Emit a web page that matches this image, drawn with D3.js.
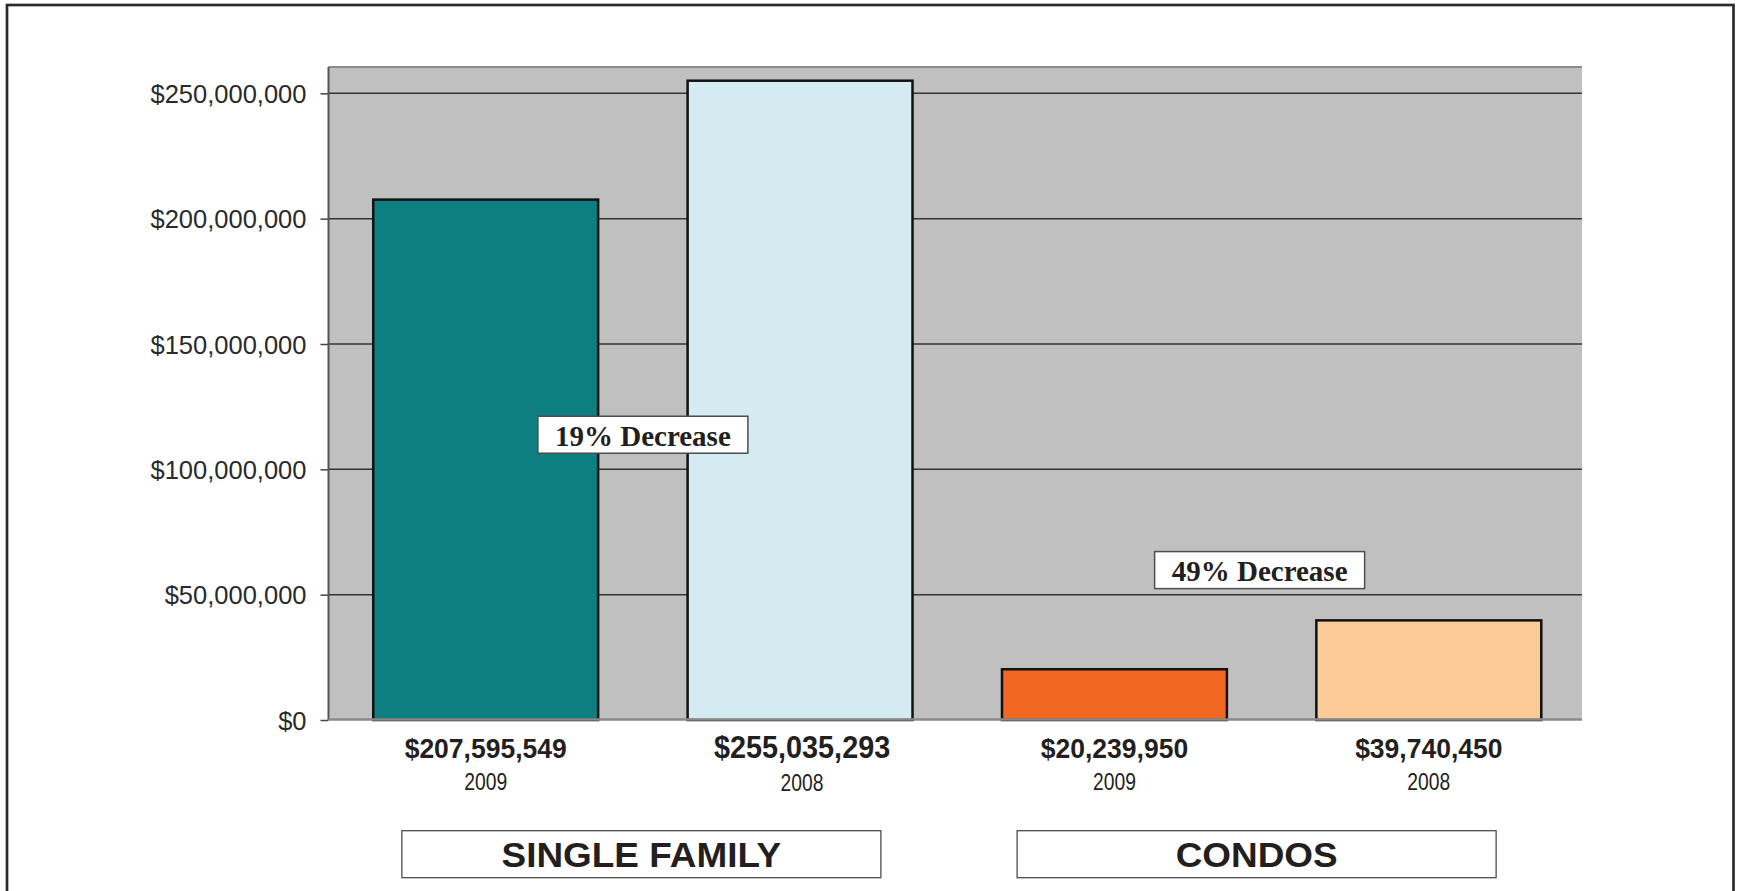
<!DOCTYPE html>
<html>
<head>
<meta charset="utf-8">
<script src="https://cdn.jsdelivr.net/npm/d3@7"></script>
<style>
  html, body { margin: 0; padding: 0; background: #ffffff; }
  svg { display: block; }
</style>
</head>
<body>
<svg id="chart" width="1741" height="891"></svg>
<script>
// ---------------- data ----------------
const categories = ["Single Family 2009", "Single Family 2008", "Condos 2009", "Condos 2008"];
const years = ["2009", "2008", "2009", "2008"];
const values = [207595549, 255035293, 20239950, 39740450];
const groups = ["SINGLE FAMILY", "CONDOS"];
const groupMembers = [[0, 1], [2, 3]];
const changeLabels = ["19% Decrease", "49% Decrease"];
const changeAnchors = [113.8e6, 59.8e6];
const yTicks = [0, 50000000, 100000000, 150000000, 200000000, 250000000];
const barColors = ["#0e7f80", "#d4ebf2", "#f26722", "#fdcb98"];

// ---------------- layout ----------------
const plot = { left: 328.5, right: 1582, top: 67, bottom: 720 };
const svg = d3.select("#chart");

const x = d3.scaleBand()
  .domain(categories)
  .range([plot.left, 1586])
  .paddingInner(0.2846)
  .paddingOuter(0.1423);

const y = d3.scaleLinear()
  .domain([0, 260500000])
  .range([plot.bottom, plot.top]);

const fmt = d3.format("$,");
const sans = "'Liberation Sans', Arial, Helvetica, sans-serif";
const serif = "'Liberation Serif', 'Times New Roman', serif";

// outer frame
svg.append("rect")
  .attr("x", 7).attr("y", 5)
  .attr("width", 1726.5).attr("height", 1000)
  .attr("fill", "none")
  .attr("stroke", "#2b2b2b")
  .attr("stroke-width", 2.7);

// plot background
svg.append("rect")
  .attr("x", plot.left).attr("y", plot.top)
  .attr("width", plot.right - plot.left)
  .attr("height", plot.bottom - plot.top)
  .attr("fill", "#c0c0c0");

// top border of plot area
svg.append("line")
  .attr("x1", plot.left).attr("x2", plot.right)
  .attr("y1", plot.top).attr("y2", plot.top)
  .attr("stroke", "#8c8c8c").attr("stroke-width", 2);

// gridlines
svg.append("g")
  .selectAll("line")
  .data(yTicks.filter(d => d > 0))
  .join("line")
  .attr("x1", plot.left).attr("x2", plot.right)
  .attr("y1", d => y(d)).attr("y2", d => y(d))
  .attr("stroke", "#333333").attr("stroke-width", 1.5);

// y axis
const yAxis = d3.axisLeft(y)
  .tickValues(yTicks)
  .tickFormat(fmt)
  .tickSize(8)
  .tickPadding(14);

const yg = svg.append("g")
  .attr("transform", `translate(${plot.left},0)`)
  .call(yAxis);
yg.select(".domain").remove();
yg.selectAll(".tick line").attr("stroke", "#444").attr("stroke-width", 1.5);
yg.selectAll(".tick text")
  .attr("font-family", sans)
  .attr("font-size", 25.5)
  .attr("font-weight", 300)
  .attr("fill", "#2a2a2a")
  .attr("dy", "0.36em");

// left axis line
svg.append("line")
  .attr("x1", plot.left).attr("x2", plot.left)
  .attr("y1", plot.top).attr("y2", plot.bottom)
  .attr("stroke", "#555").attr("stroke-width", 2);

// bars
svg.append("g")
  .selectAll("rect")
  .data(values)
  .join("rect")
  .attr("x", (d, i) => x(categories[i]))
  .attr("y", d => y(d))
  .attr("width", x.bandwidth())
  .attr("height", d => y(0) - y(d))
  .attr("fill", (d, i) => barColors[i])
  .attr("stroke", "#111")
  .attr("stroke-width", 2.5);

// baseline axis
svg.append("line")
  .attr("x1", plot.left).attr("x2", plot.right)
  .attr("y1", y(0) - 0.5).attr("y2", y(0) - 0.5)
  .attr("stroke", "#8a8a8a").attr("stroke-width", 2.4);

// value labels
svg.append("g")
  .selectAll("text")
  .data(values)
  .join("text")
  .attr("transform", (d, i) => {
    const cx = x(categories[i]) + x.bandwidth() / 2 + (i === 1 ? 2 : 0);
    return `translate(${cx},758) scale(0.93,1)`;
  })
  .attr("text-anchor", "middle")
  .attr("font-family", sans)
  .attr("font-weight", "bold")
  .attr("font-size", (d, i) => i === 1 ? 31 : 28.5)
  .attr("fill", "#231f20")
  .text(d => fmt(d));

// year labels (condensed)
svg.append("g")
  .selectAll("text")
  .data(years)
  .join("text")
  .attr("transform", (d, i) => {
    const cx = x(categories[i]) + x.bandwidth() / 2 + (i === 1 ? 2 : 0);
    return `translate(${cx},${i === 1 ? 791 : 789.5}) scale(0.84,1)`;
  })
  .attr("text-anchor", "middle")
  .attr("font-family", sans)
  .attr("font-size", 23)
  .attr("fill", "#231f20")
  .text(d => d);

// change annotations
const annOffsets = [0, -12];
changeLabels.forEach((label, k) => {
  const [a, b] = groupMembers[k];
  const cx = (x(categories[a]) + x(categories[b])) / 2 + x.bandwidth() / 2 + annOffsets[k];
  const cy = y(changeAnchors[k]);
  const g = svg.append("g").attr("transform", `translate(${cx},${cy})`);
  g.append("rect")
    .attr("x", -105).attr("y", -18.5)
    .attr("width", 210).attr("height", 37)
    .attr("fill", "#ffffff")
    .attr("stroke", "#4d4d4d").attr("stroke-width", 1.5);
  g.append("text")
    .attr("x", 0).attr("y", 10.8)
    .attr("text-anchor", "middle")
    .attr("font-family", serif)
    .attr("font-weight", "bold")
    .attr("font-size", 29)
    .attr("fill", "#231f20")
    .text(label);
});

// category group boxes
const groupOffsets = [-1.5, -15];
groups.forEach((name, k) => {
  const [a, b] = groupMembers[k];
  const cx = (x(categories[a]) + x(categories[b])) / 2 + x.bandwidth() / 2 + groupOffsets[k];
  const g = svg.append("g").attr("transform", `translate(${cx},0)`);
  g.append("rect")
    .attr("x", -239.5).attr("y", 830.7)
    .attr("width", 479).attr("height", 47)
    .attr("fill", "#ffffff")
    .attr("stroke", "#4d4d4d").attr("stroke-width", 1.3);
  g.append("text")
    .attr("transform", "translate(0,867.3) scale(1.04,1)")
    .attr("text-anchor", "middle")
    .attr("font-family", sans)
    .attr("font-weight", "bold")
    .attr("font-size", 35.5)
    .attr("fill", "#231f20")
    .text(name);
});
</script>
</body>
</html>
